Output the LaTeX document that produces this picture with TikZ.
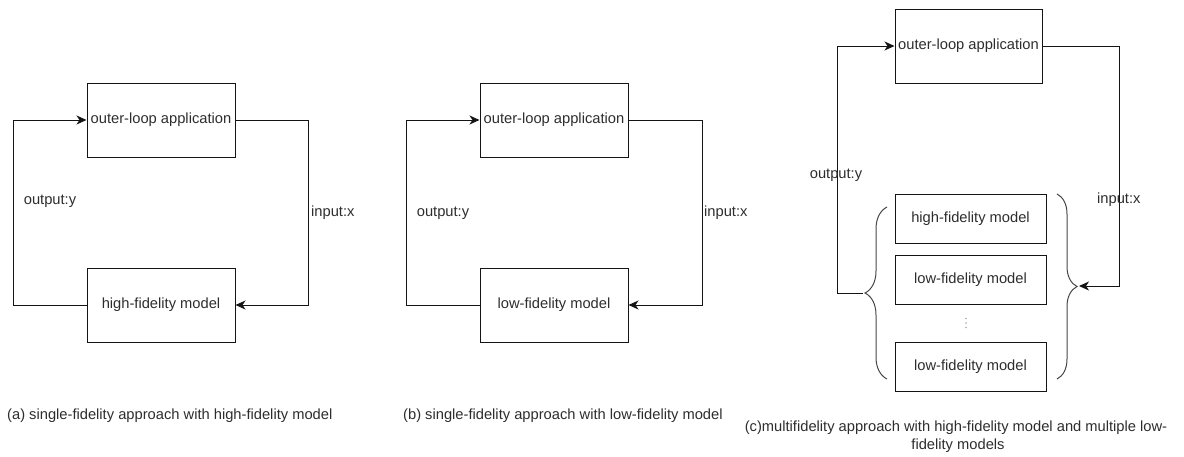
\documentclass[tikz,border=0pt]{standalone}
\usepackage{fontspec}
\setmainfont{Liberation Sans}
\usetikzlibrary{arrows.meta,decorations.pathreplacing}
\definecolor{txt}{RGB}{45,45,45}
\definecolor{edge}{RGB}{20,20,20}
\definecolor{bracecol}{RGB}{70,70,70}
\begin{document}
\begin{tikzpicture}[x=1pt,y=-1pt,
  lab/.style={inner sep=0pt, text=txt, font=\fontsize{14.7}{17.6}\selectfont},
  box/.style={lab, draw=edge, line width=1pt, minimum width=148pt, minimum height=74pt},
  modelbox/.style={lab, draw=edge, line width=1pt, minimum width=151pt, minimum height=49pt},
  conn/.style={draw=edge, line width=1pt, -{Stealth[length=10pt,width=9pt,inset=3pt]}},
  curly/.style={draw=bracecol, line width=1pt, decorate},
  dot/.style={fill=gray!70, draw=none},
  captiontext/.style={lab}]
\useasboundingbox (0,0) rectangle (1184,456);

% (a) single-fidelity loop, high-fidelity model
\node[box] (a1) at (161,120) {outer-loop application};
\node[box] (a2) at (161,305) {high-fidelity model};
\draw[conn] (a1.east) -- ++(73,0) |- (a2.east);
\draw[conn] (a2.west) -- ++(-73,0) |- (a1.west);
\node[lab] (ay) at (50,201) {output:y};
\node[lab, anchor=west] (ax) at (311,213) {input:x};

% (b) single-fidelity loop, low-fidelity model
\node[box] (b1) at (554,120) {outer-loop application};
\node[box] (b2) at (554,305) {low-fidelity model};
\draw[conn] (b1.east) -- ++(74,0) |- (b2.east);
\draw[conn] (b2.west) -- ++(-73,0) |- (b1.west);
\node[lab] (by) at (443,213) {output:y};
\node[lab, anchor=west] (bx) at (704,213) {input:x};

% (c) multifidelity loop
\node[box, minimum width=147pt] (c0) at (968.5,46) {outer-loop application};
\node[modelbox] (c1) at (970.5,218.5) {high-fidelity model};
\node[modelbox] (c2) at (970.5,280) {low-fidelity model};
\node[modelbox] (c3) at (970.5,366.5) {low-fidelity model};
% vertical ellipsis between the model boxes
\foreach \yy in {318.5,323,327.5} \fill[dot] (966,\yy) circle (0.8pt);

% braces grouping the models
\draw[curly, decoration={brace, amplitude=22pt}] (887,379) -- (887,207);
\draw[curly, decoration={brace, amplitude=20pt}] (1057,194) -- (1057,379);
\coordinate (lbt) at (863,293);
\coordinate (rbt) at (1079,286);

\draw[conn] (c0.east) -- ++(77,0) |- (rbt);
\draw[conn] (lbt) -- ++(-26,0) |- (c0.west);
\node[lab] (cy) at (836,175) {output:y};
\node[lab, anchor=west] (cx) at (1097,200) {input:x};

% captions
\node[captiontext, anchor=base west] (capa) at (7,419) {(a) single-fidelity approach with high-fidelity model};
\node[captiontext, anchor=base west] (capb) at (403,419) {(b) single-fidelity approach with low-fidelity model};
\node[captiontext, anchor=base] (capc1) at (956,431) {(c)multifidelity approach with high-fidelity model and multiple low-};
\node[captiontext, anchor=base] (capc2) at (958,449) {fidelity models};
\end{tikzpicture}
\end{document}
